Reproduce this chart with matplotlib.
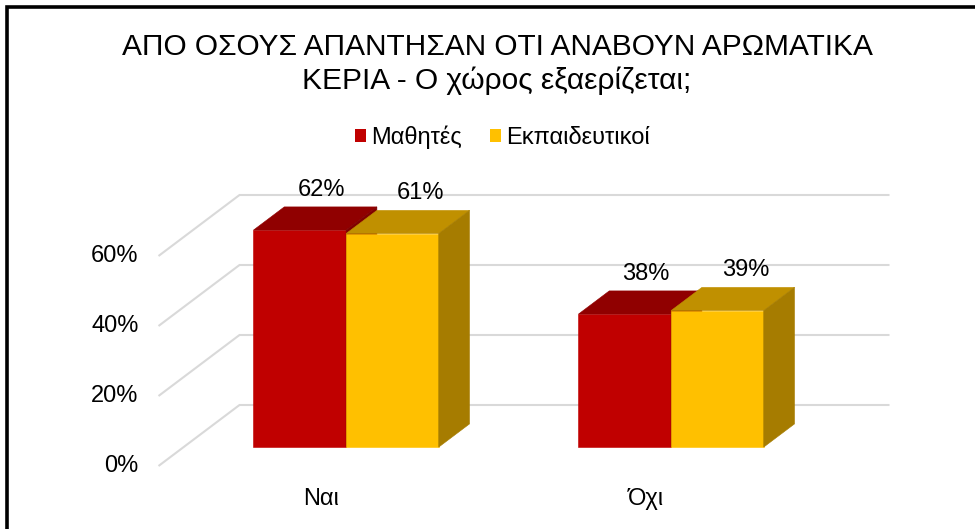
import matplotlib
matplotlib.use("Agg")
import matplotlib.pyplot as plt
from matplotlib.patches import Polygon, Rectangle, Patch

plt.rcParams['font.family'] = ['Liberation Sans', 'DejaVu Sans']

# data
categories = ['Ναι', 'Όχι']
series_names = ['Μαθητές', 'Εκπαιδευτικοί']
mathites = [62, 38]
ekpaideftikoi = [61, 39]
ticks = [0, 20, 40, 60]
title = 'ΑΠΟ ΟΣΟΥΣ ΑΠΑΝΤΗΣΑΝ ΟΤΙ ΑΝΑΒΟΥΝ ΑΡΩΜΑΤΙΚΑ\nΚΕΡΙΑ - Ο χώρος εξαερίζεται;'

front_col = ['#C00000', '#FFC000']
top_col = ['#900000', '#C09000']
side_col = ['#800000', '#A67C00']
grid_col = '#D9D9D9'

W, H = 975, 529
fig = plt.figure(figsize=(W / 100, H / 100), dpi=100)
ax = fig.add_axes([0, 0, 1, 1])

# pseudo 3d layout: x in category units, y in percent, d = depth 0..1
px_per_cat = 325.0
px_per_pct = 3.5
x_org, y_org = 321.0, 466.0
ax.set_xlim(-x_org / px_per_cat, (W - x_org) / px_per_cat)
ax.set_ylim(-(H - y_org) / px_per_pct, y_org / px_per_pct)
ax.axis('off')

DX = 81.0 / px_per_cat
DY = 61.0 / px_per_pct


def proj(x, y, d):
    return (x + d * DX, y + d * DY)


# walls / gridlines
for v in ticks:
    ax.plot(*zip(proj(-0.5, v, 0), proj(-0.5, v, 1), proj(1.5, v, 1)),
            color=grid_col, lw=1.5, zorder=1, solid_capstyle='butt')
    ax.annotate(f'{v}%', xy=(-0.5, v), xytext=(-20, 0), textcoords='offset pixels',
                ha='right', va='center', fontsize=17, color='#000000')

for i, c in enumerate(categories):
    ax.annotate(c, xy=(i, 0), xytext=(0, -33), textcoords='offset pixels',
                ha='center', va='center', fontsize=17, color='#000000')

# bars
bw = 0.285
d0, d1 = 0.31, 0.69
values = [mathites, ekpaideftikoi]
label_dx = [6, 13]
z = 2
for i in range(len(categories)):
    for j, vals in enumerate(values):
        h = vals[i]
        x0 = i - bw + j * bw
        x1 = x0 + bw
        faces = [
            ([proj(x0, 0, d0), proj(x1, 0, d0), proj(x1, h, d0), proj(x0, h, d0)], front_col[j]),
            ([proj(x0, h, d0), proj(x1, h, d0), proj(x1, h, d1), proj(x0, h, d1)], top_col[j]),
            ([proj(x1, 0, d0), proj(x1, 0, d1), proj(x1, h, d1), proj(x1, h, d0)], side_col[j]),
        ]
        for pts, col in faces:
            ax.add_patch(Polygon(pts, closed=True, facecolor=col, edgecolor=col,
                                 lw=0.4, zorder=z))
        z += 1
        cx, cy = proj((x0 + x1) / 2, h, (d0 + d1) / 2)
        ax.annotate(f'{h}%', xy=(cx, cy), xytext=(label_dx[j], 29), textcoords='offset pixels',
                    ha='center', va='center', fontsize=17, color='#000000', zorder=20)

fig.text(497 / W, 1 - 64 / H, title, ha='center', va='center', fontsize=21.5,
         linespacing=1.22, color='#000000')

handles = [Patch(facecolor=front_col[k], edgecolor='none') for k in range(2)]
fig.legend(handles, series_names, loc='center', bbox_to_anchor=(502 / W, 1 - 137 / H),
           ncol=2, frameon=False, fontsize=17, handlelength=0.48, handleheight=0.48,
           handletextpad=0.2, columnspacing=1.2)

# chart border (left and top visible)
fig.add_artist(Rectangle((7 / W, -0.1), 1.2, 1.1 - 7.5 / H, transform=fig.transFigure,
                         fill=False, edgecolor='#000000', lw=2.6))

fig.savefig('out.png', dpi=100, facecolor='white')
